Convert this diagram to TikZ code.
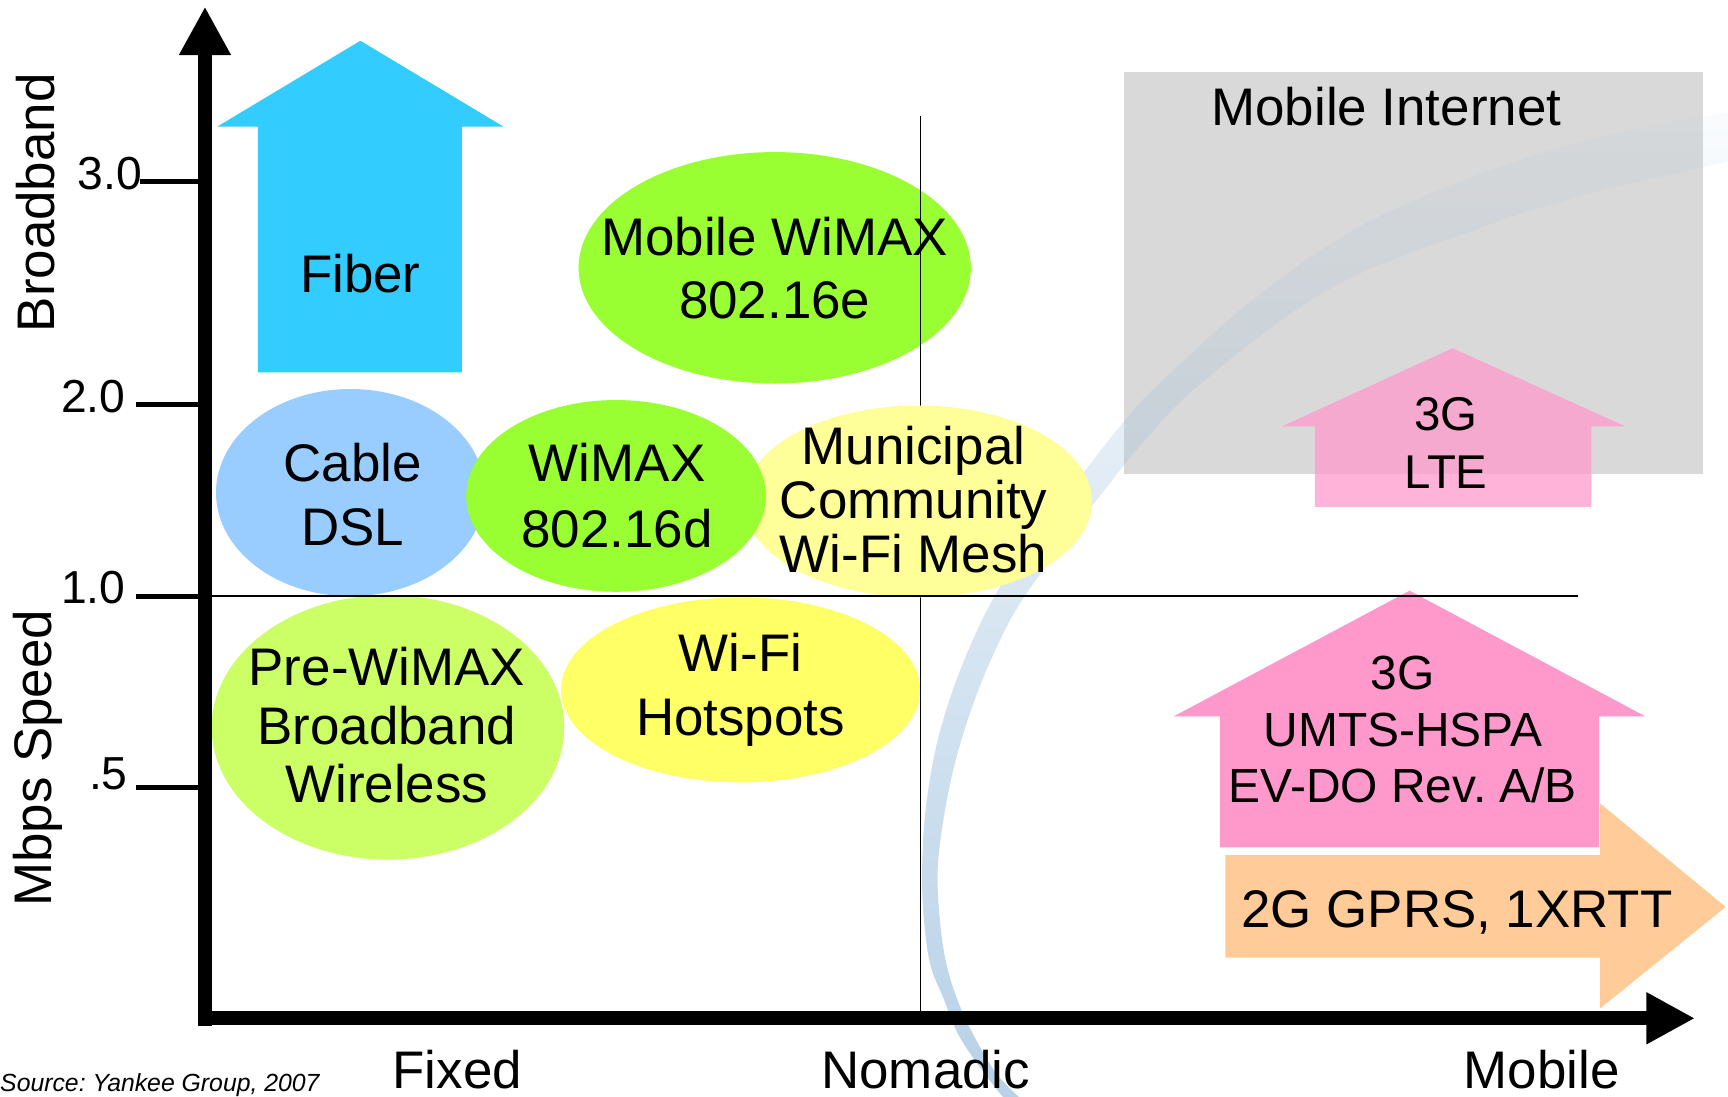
\documentclass[tikz,border=0pt]{standalone}
\usepackage{fontspec}
\setmainfont{Liberation Sans}
\usetikzlibrary{shapes.geometric,arrows.meta,fadings}
\definecolor{fibercol}{HTML}{33CCFF}
\definecolor{mwgreen}{HTML}{99FF33}
\definecolor{cablecol}{HTML}{99CCFF}
\definecolor{precol}{HTML}{CCFF66}
\definecolor{municol}{HTML}{FFFF99}
\definecolor{hotcol}{HTML}{FFFF66}
\definecolor{pinkcol}{HTML}{FF99CC}
\definecolor{orangecol}{HTML}{FFCC99}
\definecolor{boxgray}{HTML}{D9D9D9}
\definecolor{arccol}{RGB}{155,191,221}
\tikzfading[name=arcfade, top color=transparent!95, bottom color=transparent!28]
\tikzset{
  big/.style={font=\fontsize{48}{57}\selectfont, align=center, inner sep=0pt},
  blob/.style={ellipse, inner sep=0pt, draw=none},
  tick/.style={line width=4.5pt},
  ticklab/.style={font=\fontsize{42}{48}\selectfont, inner sep=0pt, anchor=base east},
  axis/.style={line width=13pt, -{Triangle[length=44pt,width=44pt]}},
  thinline/.style={line width=1.3pt},
  xlab/.style={font=\fontsize{48}{57}\selectfont, inner sep=0pt, anchor=base},
}
\frenchspacing
\begin{document}
\frenchspacing
\begin{tikzpicture}[x=1pt,y=-1pt]
\useasboundingbox (0,0) rectangle (1568,995);
% gray box
\fill[boxgray] (1020,65) rectangle (1545,430);
\node[big, anchor=center] (mi) at (1258,97) {Mobile Internet};
% fiber arrow
\fill[fibercol] (327,37) -- (457,115) -- (419,115) -- (419,338) -- (234,338) -- (234,115) -- (197,115) -- cycle;
\node[big] (fiber) at (327,248) {Fiber};
% ellipses (lower layer)
\node[blob, fill=mwgreen, minimum width=356pt, minimum height=210pt] (mwE) at (703,243) {};
\node[big] (mw) at (mwE.center) {Mobile WiMAX\\802.16e};
\node[blob, fill=precol, minimum width=320pt, minimum height=240pt] (preE) at (352,660) {};
\node[big, font=\fontsize{48}{53}\selectfont] (pre) at (351,658) {Pre-WiMAX\\Broadband\\Wireless};
\node[blob, fill=hotcol, minimum width=326pt, minimum height=168pt] (hotE) at (672,626) {};
\node[big, font=\fontsize{48}{58}\selectfont] (hot) at (hotE.center) {Wi-Fi\\Hotspots};
% faded arc
\fill[arccol, path fading=arcfade]
  plot[smooth, tension=0.6] coordinates {(916,1002) (898,980) (871,941) (856,905) (844,874) (838,828) (837,783) (840,735) (849,680) (864,628) (884,578) (906,535) (938,488) (980,433) (1021,381) (1053,347) (1144,266) (1244,200) (1378,145) (1478,118) (1578,100)}
  -- plot[smooth, tension=0.6] coordinates {(1578,144) (1445,175) (1345,206) (1210,260) (1093,345) (1040,398) (998,450) (958,502) (924,550) (900,597) (881,645) (866,695) (856,745) (851,790) (853,835) (859,875) (870,910) (884,940) (905,975) (932,1002)}
  -- cycle;
% vertical divider
\coordinate (vtop) at (835,105);
\coordinate (vbot) at (835,920);
\draw[thinline] (vtop) -- (vbot);
% ellipses (upper layer)
\node[blob, fill=municol, minimum width=316pt, minimum height=174pt] (munE) at (833,455) {};
\node[big, font=\fontsize{48}{49}\selectfont] (mun) at (829,453) {Municipal\\Community\\Wi-Fi Mesh};
\node[blob, fill=cablecol, minimum width=244pt, minimum height=188pt] (cableE) at (318,447) {};
\node[big, font=\fontsize{48}{58}\selectfont] (cable) at (320,449) {Cable\\DSL};
\node[blob, fill=mwgreen, minimum width=272pt, minimum height=174pt] (wimaxE) at (559,450) {};
\node[big, font=\fontsize{48}{60}\selectfont] (wimax) at (560,450) {WiMAX\\802.16d};
% 3G LTE arrow (semi transparent)
\fill[pinkcol, fill opacity=0.75] (1318,316) -- (1475,387) -- (1444,387) -- (1444,460) -- (1193,460) -- (1193,387) -- (1163,387) -- cycle;
\node[big, font=\fontsize{43}{53}\selectfont] (lte) at (1312,402) {3G\\LTE};
% 3G UMTS arrow
\fill[pinkcol] (1279,536) -- (1493,650) -- (1451,650) -- (1451,769) -- (1107,769) -- (1107,650) -- (1065,650) -- cycle;
\node[big, font=\fontsize{43.5}{51}\selectfont] (umts) at (1273,662) {3G\\UMTS-HSPA\\EV-DO Rev. A/B};
% 2G arrow
\fill[orangecol] (1112,776) -- (1452,776) -- (1452,729) -- (1566,823) -- (1452,915) -- (1452,869) -- (1112,869) -- cycle;
\node[big] (twog) at (1322,828) {2G GPRS, 1XRTT};
% horizontal divider
\coordinate (hl) at (185,541);
\coordinate (hr) at (1432,541);
\draw[thinline] (hl) -- (hr);
% axes
\coordinate (orig) at (186,924);
\coordinate (ytip) at (186,6);
\coordinate (xtip) at (1538,924);
\coordinate (ybot) at (186,931);
\coordinate (xleft) at (180,924);
\draw[axis] (ybot) -- (ytip);
\draw[axis] (xleft) -- (xtip);
% ticks
\coordinate (t3) at (127,165);
\coordinate (t2) at (123,367);
\coordinate (t1) at (123,541);
\coordinate (t5) at (123,715);
\draw[tick] (t3) -- (t3 -| orig);
\draw[tick] (t2) -- (t2 -| orig);
\draw[tick] (t1) -- (t1 -| orig);
\draw[tick] (t5) -- (t5 -| orig);
\node[ticklab] (l3) at (129,172) {3.0};
\node[ticklab] (l2) at (114,374) {2.0};
\node[ticklab] (l1) at (114,548) {1.0};
\node[ticklab] (l5) at (116,716) {.5};
% axis titles
\node[big, rotate=90] (bb) at (32,184) {Broadband};
\node[big, rotate=90] (mbps) at (34,688) {Mbps Speed};
\node[xlab] (fixed) at (415,988) {Fixed};
\node[xlab] (nomadic) at (840,988) {Nomadic};
\node[xlab] (mobile) at (1399,988) {Mobile};
\node[font=\fontsize{22.5}{26}\itshape, inner sep=0pt, anchor=base west] (src) at (0,990) {Source: Yankee Group, 2007};
\end{tikzpicture}
\end{document}
